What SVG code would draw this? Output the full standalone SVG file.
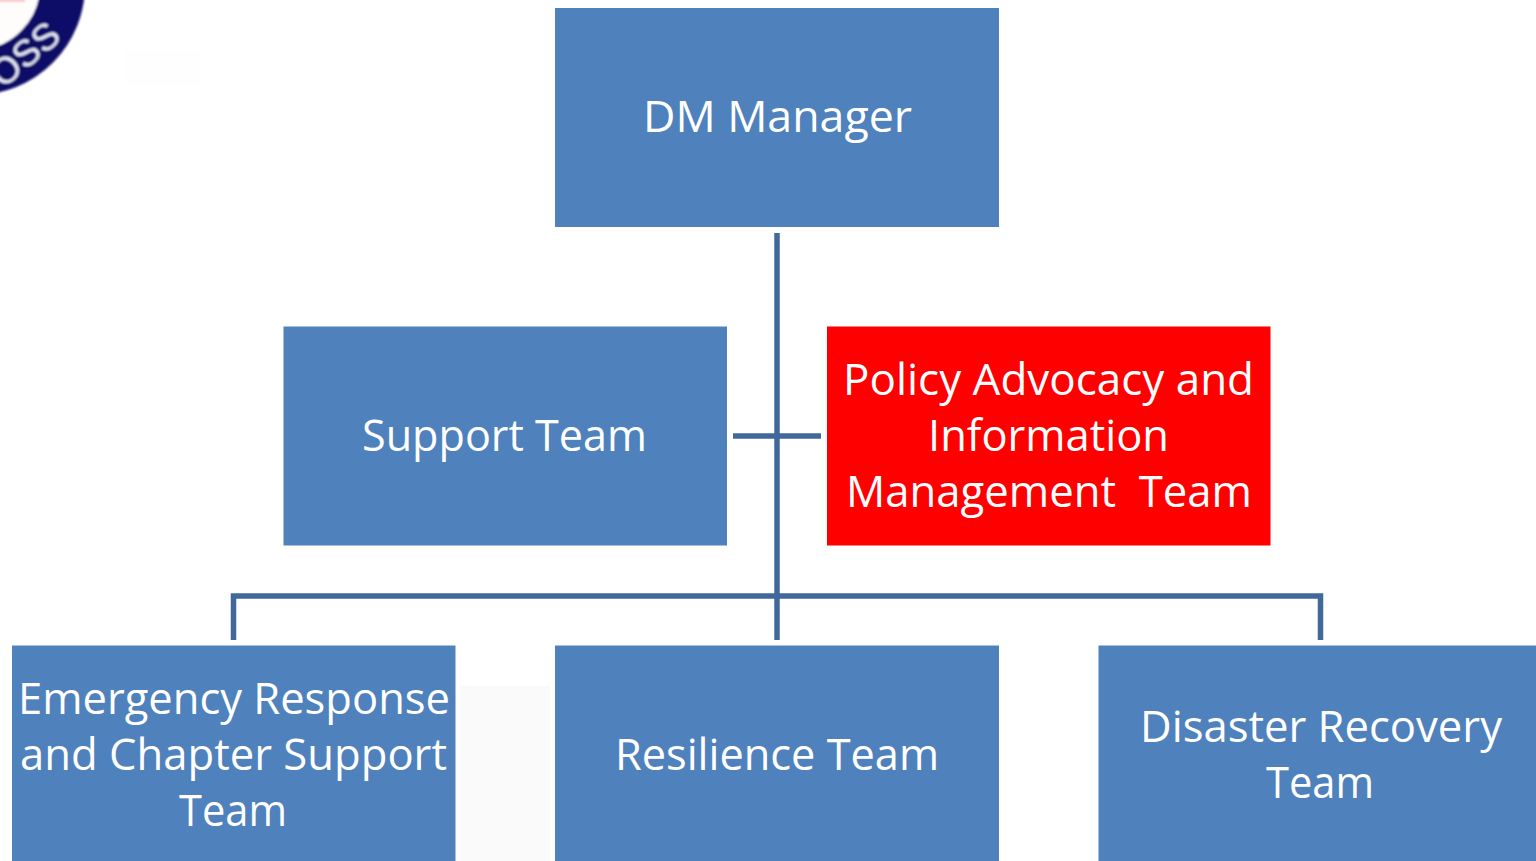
<svg xmlns="http://www.w3.org/2000/svg" width="1536" height="861" viewBox="0 0 1536 861">
<defs><filter id="soft" x="-20%" y="-20%" width="140%" height="140%"><feGaussianBlur stdDeviation="0.8"/></filter></defs>
<style>
.n{fill:#4f81bd}
.t{font-family:"Open Sans","Noto Sans","Liberation Sans",sans-serif;font-size:44px;fill:#fff;text-anchor:middle}
.c{fill:none;stroke:#41689a;stroke-width:5.5}
</style>
<rect width="1536" height="861" fill="#fff"/>
<rect x="460" y="686" width="90" height="175" fill="#fafafa"/>
<rect x="125" y="50" width="75" height="35" fill="#fefefe"/>
<g id="logo" filter="url(#soft)">
<circle cx="-25" cy="-15" r="65" fill="#fffdfc"/>
<rect x="-5" y="-5" width="30" height="7" fill="#ffc8c8"/>
<circle cx="-25" cy="-15" r="87.500" fill="none" stroke="#0b0b68" stroke-width="45"/>
<text transform="translate(33,64) rotate(-40)" text-anchor="middle" font-family="'Liberation Sans',sans-serif" font-size="37" fill="#e4e6f4">OSS</text>
</g>
<g id="connectors">
<path class="c" d="M777 233V640M733 436H821M233.500 640V596H1320.500V640"/>
</g>
<g id="dm-manager"><rect class="n" x="555" y="8" width="444" height="219"/><text class="t" x="777.500" y="132" textLength="269" lengthAdjust="spacingAndGlyphs">DM Manager</text></g>
<g id="support-team"><rect class="n" x="283.500" y="326.500" width="443.500" height="219"/><text class="t" x="504.500" y="451" textLength="285" lengthAdjust="spacingAndGlyphs">Support Team</text></g>
<g id="policy-team"><rect x="827" y="326.500" width="443.500" height="219" fill="#f00"/><text class="t" x="1048.500" y="395" textLength="411" lengthAdjust="spacingAndGlyphs">Policy Advocacy and</text><text class="t" x="1048.500" y="451" textLength="241" lengthAdjust="spacingAndGlyphs">Information</text><text class="t" x="1049" y="507" textLength="406" lengthAdjust="spacingAndGlyphs" xml:space="preserve">Management  Team</text></g>
<g id="emergency-team"><rect class="n" x="12" y="645.500" width="443.500" height="216"/><text class="t" x="234" y="714" textLength="432" lengthAdjust="spacingAndGlyphs">Emergency Response</text><text class="t" x="233.500" y="770" textLength="427" lengthAdjust="spacingAndGlyphs">and Chapter Support</text><text class="t" x="233" y="826" textLength="108" lengthAdjust="spacingAndGlyphs">Team</text></g>
<g id="resilience-team"><rect class="n" x="555" y="645.500" width="444" height="216"/><text class="t" x="777" y="770" textLength="324" lengthAdjust="spacingAndGlyphs">Resilience Team</text></g>
<g id="recovery-team"><rect class="n" x="1098.500" y="645.500" width="438" height="216"/><text class="t" x="1321" y="742" textLength="362" lengthAdjust="spacingAndGlyphs">Disaster Recovery</text><text class="t" x="1320" y="798" textLength="108" lengthAdjust="spacingAndGlyphs">Team</text></g>
</svg>
